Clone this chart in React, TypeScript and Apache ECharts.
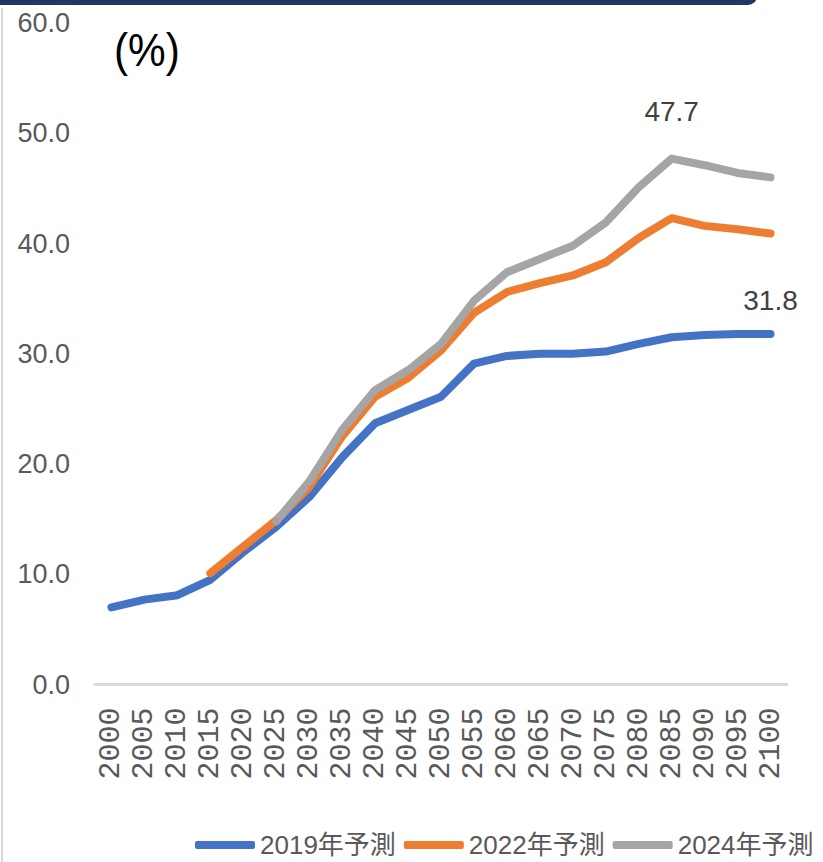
import React, { useEffect, useRef } from "react";
import * as echarts from "echarts";

const years = ["2000","2005","2010","2015","2020","2025","2030","2035","2040","2045","2050","2055","2060","2065","2070","2075","2080","2085","2090","2095","2100"];
const forecast2019 = [7.0, 7.7, 8.1, 9.5, 12.0, 14.3, 17.0, 20.6, 23.7, 24.9, 26.1, 29.1, 29.8, 30.0, 30.0, 30.2, 30.9, 31.5, 31.7, 31.8, 31.8];
const forecast2022 = [null, null, null, 10.1, 12.5, 14.9, 17.9, 22.5, 26.1, 27.8, 30.3, 33.7, 35.6, 36.4, 37.1, 38.3, 40.5, 42.3, 41.6, 41.3, 40.9];
const forecast2024 = [null, null, null, null, null, 14.8, 18.4, 23.1, 26.7, 28.5, 30.9, 34.8, 37.4, 38.6, 39.8, 41.9, 45.1, 47.7, 47.1, 46.4, 46.0];
const seriesNames = ["2019年予測", "2022年予測", "2024年予測"];
const colors = ["#4472C4", "#ED7D31", "#A5A5A5"];
const unitLabel = "(%)";

const SANS = "'Liberation Sans', 'Noto Sans CJK JP', sans-serif";

export default function App() {
  const ref = useRef<HTMLDivElement>(null);
  useEffect(() => {
    if (!ref.current) return;
    const chart = echarts.init(ref.current, null, { renderer: "svg" });
    const labelStyle = (dist: number) => ({
      show: true,
      position: "top",
      distance: dist,
      fontFamily: SANS,
      fontSize: 28,
      color: "#404040",
      formatter: (p: any) => Number(p.value).toFixed(1),
    });
    const mkData = (arr: (number | null)[], labelIdx: number, dist: number) =>
      arr.map((v, i) => {
        if (v === null) return "-";
        if (i === labelIdx) return { value: v, label: labelStyle(dist) };
        return v;
      });
    const peak2024 = forecast2024.indexOf(Math.max(...(forecast2024.filter((v) => v !== null) as number[])));
    const line = (name: string, color: string, data: any[]) => ({
      name,
      type: "line",
      data,
      symbol: "circle",
      symbolSize: 2,
      showSymbol: true,
      itemStyle: { color },
      lineStyle: { color, width: 8, cap: "round", join: "round" },
      connectNulls: false,
      label: { show: false },
    });
    chart.setOption({
      animation: false,
      backgroundColor: "#ffffff",
      grid: { left: 95, right: 36, top: 23, bottom: 177.5, containLabel: false },
      legend: {
        left: 195,
        top: 832,
        width: 628,
        padding: 0,
        icon: "roundRect",
        itemWidth: 60,
        itemHeight: 8,
        itemGap: 8,
        textStyle: { fontFamily: SANS, fontSize: 26, lineHeight: 26, color: "#595959" },
        data: seriesNames,
      },
      xAxis: {
        type: "category",
        data: years,
        boundaryGap: true,
        axisLine: { show: true, lineStyle: { color: "#D9D9D9", width: 3 } },
        axisTick: { show: false },
        axisLabel: {
          rotate: 90,
          margin: 23,
          interval: 0,
          fontFamily: "'Liberation Mono', 'DejaVu Sans Mono', monospace",
          fontSize: 30,
          color: "#595959",
        },
      },
      yAxis: {
        type: "value",
        min: 0,
        max: 60,
        interval: 10,
        axisLine: { show: false },
        axisTick: { show: false },
        splitLine: { show: false },
        axisLabel: {
          margin: 25,
          fontFamily: SANS,
          fontSize: 27,
          color: "#595959",
          formatter: (v: number) => v.toFixed(1),
        },
      },
      graphic: [
        {
          type: "rect",
          shape: { x: -20, y: -20, width: 777, height: 25, r: 9 },
          style: { fill: "#203864" },
          z: 10,
        },
        {
          type: "line",
          shape: { x1: 2, y1: 8, x2: 2, y2: 862 },
          style: { stroke: "#D9D9D9", lineWidth: 2 },
        },
        {
          type: "text",
          x: 114,
          y: 27,
          scaleX: 0.92,
          style: { text: unitLabel, fontFamily: SANS, fontSize: 46, fill: "#000000", textVerticalAlign: "top" },
        },
      ],
      series: [
        line(seriesNames[0], colors[0], mkData(forecast2019, forecast2019.length - 1, 18)),
        line(seriesNames[1], colors[1], mkData(forecast2022, -1, 0)),
        line(seriesNames[2], colors[2], mkData(forecast2024, peak2024, 32)),
      ],
    });
    return () => chart.dispose();
  }, []);
  return <div ref={ref} style={{ position: "fixed", left: 0, top: 0, width: 823, height: 862 }} />;
}
